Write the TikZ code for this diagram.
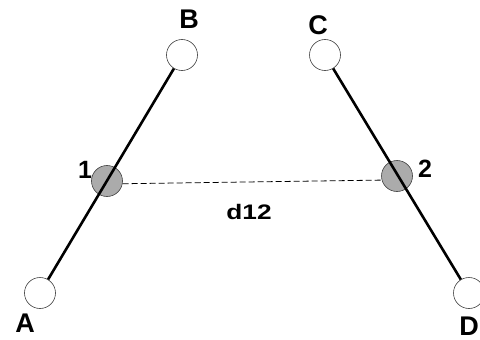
\documentclass[tikz,border=0pt]{standalone}
\usepackage{fontspec}
\setmainfont{Liberation Sans}
\begin{document}
\begin{tikzpicture}[x=1pt,y=-1pt,
  endpt/.style={circle,draw=black!75,line width=0.6pt,fill=white,minimum size=31pt,inner sep=0pt},
  midpt/.style={circle,draw=black!75,line width=0.6pt,fill=black!33,minimum size=31pt,inner sep=0pt},
  rod/.style={line width=2.6pt,black},
  lbl/.style={font=\bfseries\fontsize{27}{29}\selectfont,inner sep=0pt},
  num/.style={font=\bfseries\fontsize{25}{27}\selectfont,inner sep=0pt},
  dlbl/.style={font=\bfseries\fontsize{21}{23}\selectfont,inner sep=0pt,xscale=1.25}]
\useasboundingbox (0,0) rectangle (480,340);
\node[midpt] (p1) at (107,181) {};
\node[midpt] (p2) at (397,176) {};
\node[endpt] (A) at (40,293) {};
\node[endpt] (B) at (182,55) {};
\node[endpt] (C) at (325,55) {};
\node[endpt] (D) at (469,293) {};
\draw[rod] (A) -- (B);
\draw[rod] (C) -- (D);
\draw[line width=0.8pt,dash pattern=on 6pt off 3pt] (p1.-10) -- (p2.195);
\node[lbl] (lA) at (25,323) {A};
\node[lbl] (lB) at (189,19) {B};
\node[lbl] (lC) at (318,25) {C};
\node[lbl] (lD) at (469,326) {D};
\node[num] (l1) at (85,170) {1};
\node[num] (l2) at (425,169) {2};
\node[dlbl] (ld) at (249,212) {d12};
\end{tikzpicture}
\end{document}
